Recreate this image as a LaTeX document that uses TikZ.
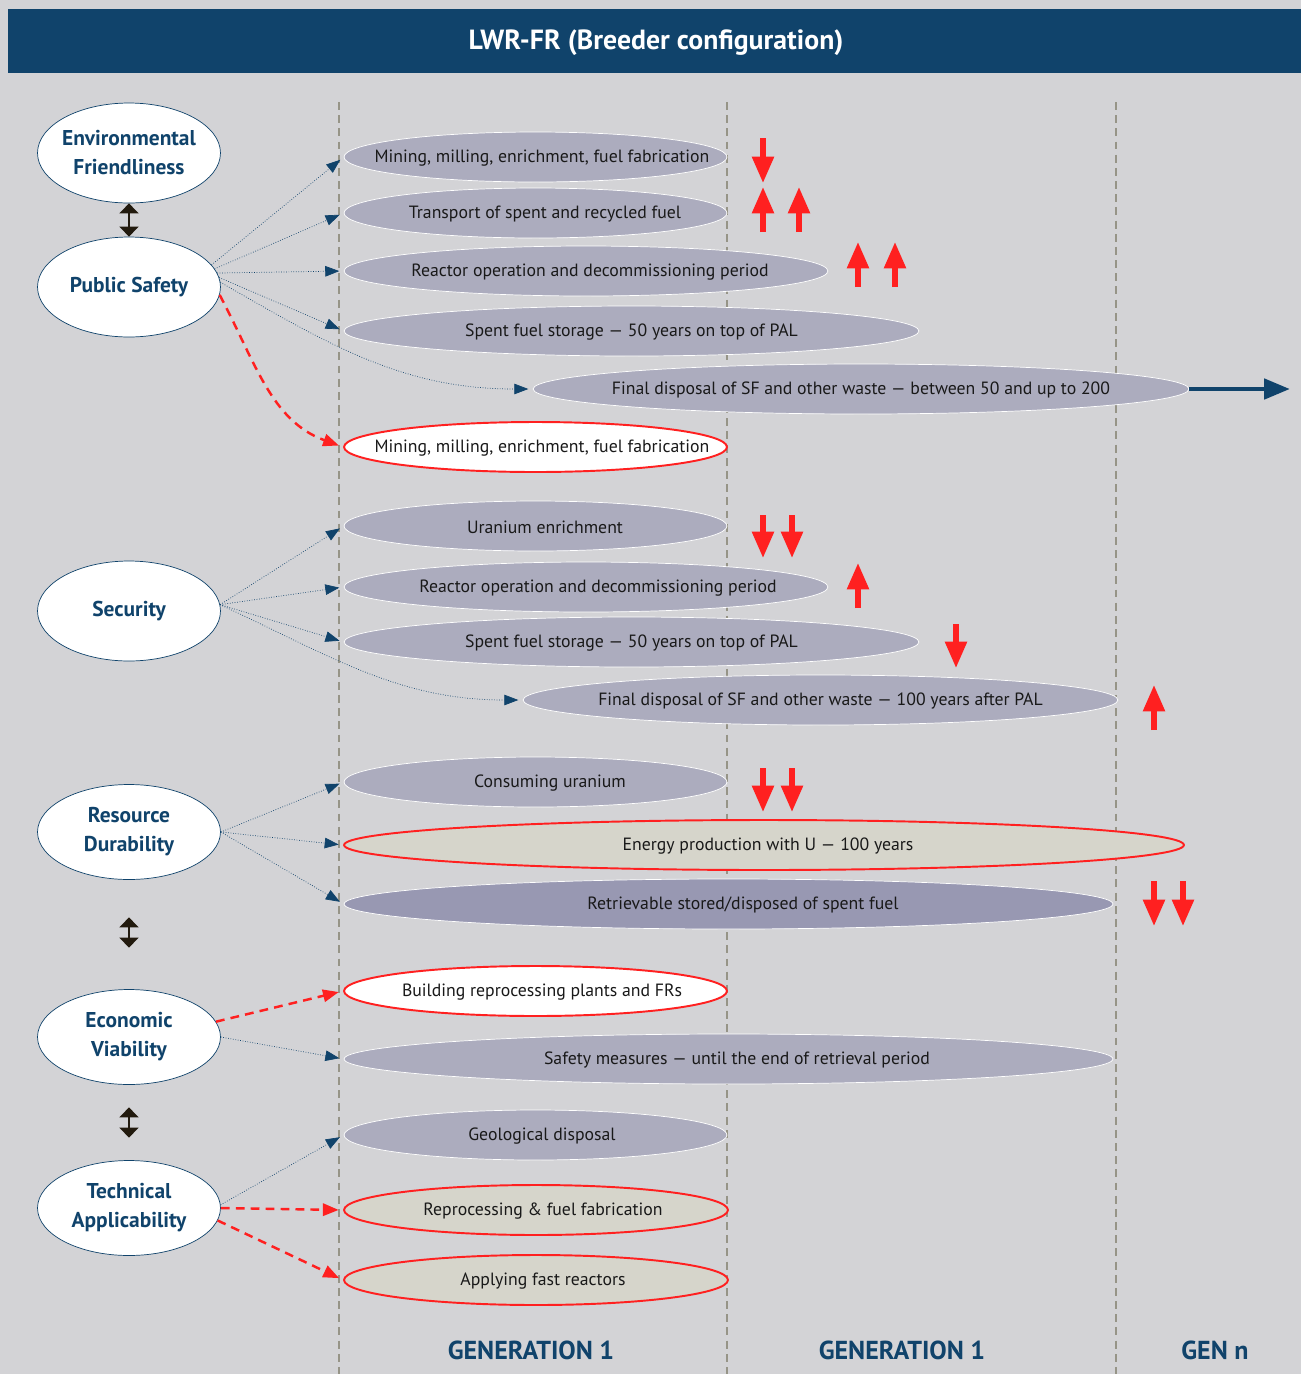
\documentclass[tikz,border=0pt]{standalone}
\usepackage{fontspec}
\setmainfont{PT Sans}
\usepackage{tikz}
\usetikzlibrary{shapes,arrows.meta,positioning,calc}
\usepackage{xcolor}
\definecolor{bgGrey}{RGB}{211,211,214}
\definecolor{navy}{RGB}{16,67,107}
\definecolor{stageGrey}{RGB}{172,172,190}
\definecolor{stageDark}{RGB}{152,152,178}
\definecolor{sand}{RGB}{214,213,203}
\definecolor{alarm}{RGB}{255,32,32}
\definecolor{ruleGrey}{RGB}{150,148,135}
\definecolor{inkBrown}{RGB}{34,26,14}

\begin{document}
\begin{tikzpicture}[
    x=0.02cm, y=-0.02cm,
    goal/.style={ellipse, draw=navy, thin, fill=white, minimum width=3.66cm, minimum height=2cm, inner ysep=0pt, inner xsep=-3pt, align=center, text=navy, font=\fontsize{12.2}{16.5}\selectfont\bfseries},
    stage/.style={ellipse, draw=white, fill=stageGrey, minimum height=1cm, inner sep=0pt},
    stage red/.style={ellipse, draw=alarm, line width=1.1pt, fill=white, minimum height=1cm, inner sep=0pt},
    stage text/.style={inner sep=0pt, yshift=-0.8pt, text=black!90, font=\fontsize{10.1}{12}\selectfont},
    link/.style={navy, densely dotted, thin, shorten >=2.5pt, -{Triangle[length=8pt,width=6pt]}},
    link red/.style={alarm, dash pattern=on 5pt off 3.5pt, line width=1.4pt, shorten >=2.5pt, -{Triangle[length=9pt,width=7pt]}},
    fat/.style={alarm, line width=3pt, -{Triangle[length=15pt,width=12pt]}},
    swap/.style={inkBrown, line width=0.8pt, {Triangle[length=5.7pt,width=10.8pt]}-{Triangle[length=5.7pt,width=10.8pt]}},
    gen/.style={text=navy, font=\fontsize{14.8}{17}\selectfont\bfseries}
]
    % Background and title
    \useasboundingbox (0,0) rectangle (1301,1374);
    \fill[bgGrey] (0,0) rectangle (1301,1374);
    \fill[navy] (8,9) rectangle (1301,73);
    \node[text=white, font=\fontsize{15.8}{18}\selectfont\bfseries] (title) at (656,43) {LWR-FR (Breeder configuration)};

    % Generation borders
    \foreach \x in {339,727,1116}
        \draw[ruleGrey, line width=1.1pt, dash pattern=on 4.5pt off 3pt] (\x,102) -- (\x,1374);
    \node[gen] (g1) at (531,1350) {GENERATION 1};
    \node[gen] (g2) at (902,1350) {GENERATION 1};
    \node[gen] (g3) at (1215,1350) {GEN n};

    % Criteria
    \node[goal] (env) at (129,153) {Environmental\\Friendliness};
    \node[goal] (ps) at (129,287) {Public Safety};
    \node[goal] (sec) at (129,611) {Security};
    \node[goal, minimum height=1.9cm] (res) at (129,832) {Resource\\Durability};
    \node[goal, minimum height=1.9cm] (eco) at (129,1037) {Economic\\Viability};
    \node[goal, minimum height=1.9cm] (tec) at (129,1208) {Technical\\Applicability};

    % Public safety stages
    \node[stage, minimum width=7.66cm] (mine1) at (535.5,157) {};
    \node[stage text] (mine1t) at (542,157) {Mining, milling, enrichment, fuel fabrication};
    \node[stage, minimum width=7.66cm] (trans) at (535.5,213) {};
    \node[stage text] (transt) at (545,213) {Transport of spent and recycled fuel};
    \node[stage, minimum width=9.68cm] (react1) at (586,271) {};
    \node[stage text] (react1t) at (590,271) {Reactor operation and decommissioning period};
    \node[stage, minimum width=11.5cm] (store1) at (631.5,331) {};
    \node[stage text] (store1t) at (store1) {Spent fuel storage --- 50 years on top of PAL};
    \node[stage, minimum width=13.12cm] (final1) at (861,389) {};
    \node[stage text] (final1t) at (final1) {Final disposal of SF and other waste --- between 50 and up to 200};
    \node[stage red, minimum width=7.66cm] (mine2) at (535.5,447) {};
    \node[stage text] (mine2t) at (542,447) {Mining, milling, enrichment, fuel fabrication};

    % Security stages
    \node[stage, minimum width=7.66cm] (enrich) at (535.5,526) {};
    \node[stage text] (enricht) at (545,526) {Uranium enrichment};
    \node[stage, minimum width=9.68cm] (react2) at (586,587) {};
    \node[stage text] (react2t) at (598,587) {Reactor operation and decommissioning period};
    \node[stage, minimum width=11.5cm] (store2) at (631.5,642) {};
    \node[stage text] (store2t) at (store2) {Spent fuel storage --- 50 years on top of PAL};
    \node[stage, minimum width=11.9cm] (final2) at (820.5,700) {};
    \node[stage text] (final2t) at (final2) {Final disposal of SF and other waste --- 100 years after PAL};

    % Resource durability stages
    \node[stage, minimum width=7.66cm] (consume) at (535.5,782) {};
    \node[stage text] (consumet) at (550,782) {Consuming uranium};
    \node[stage red, fill=sand, minimum width=16.8cm] (energy) at (764,845) {};
    \node[stage text] (energyt) at (768,845) {Energy production with U --- 100 years};
    \node[stage, fill=stageDark, minimum width=15.38cm] (retrieve) at (728.5,904) {};
    \node[stage text] (retrievet) at (743,904) {Retrievable stored/disposed of spent fuel};

    % Economic viability stages
    \node[stage red, minimum width=7.66cm] (build) at (535.5,991) {};
    \node[stage text] (buildt) at (542,991) {Building reprocessing plants and FRs};
    \node[stage, minimum width=15.38cm] (safety) at (728.5,1059) {};
    \node[stage text] (safetyt) at (737,1059) {Safety measures --- until the end of retrieval period};

    % Technical applicability stages
    \node[stage, minimum width=7.66cm] (geo) at (535.5,1135) {};
    \node[stage text] (geot) at (542,1135) {Geological disposal};
    \node[stage red, fill=sand, minimum width=7.68cm] (reproc) at (536,1210) {};
    \node[stage text] (reproct) at (543,1210) {Reprocessing \& fuel fabrication};
    \node[stage red, fill=sand, minimum width=7.68cm] (fastr) at (536,1280) {};
    \node[stage text] (fastrt) at (543,1280) {Applying fast reactors};

    % Links between criteria
    \draw[swap] (env) -- (ps);
    \draw[swap, shorten <=0.75cm, shorten >=0.83cm] (res) -- (eco);
    \draw[swap, shorten <=0.45cm, shorten >=0.45cm] (eco) -- (tec);

    % Links to stages
    \draw[link] (ps.15) -- (mine1.west);
    \draw[link] (ps.12) -- (trans.west);
    \draw[link] (ps.9) -- (react1.west);
    \draw[link] (ps.6) -- (store1.west);
    \draw[link] (ps.3) to[out=-30, in=180] (final1.west);
    \draw[link red] (ps.-5) to[out=-62, in=160] (mine2.west);

    \draw[link] (sec.4) -- (enrich.west);
    \draw[link] (sec.4) -- (react2.west);
    \draw[link] (sec.4) -- (store2.west);
    \draw[link] (sec.4) to[out=-25, in=180] (final2.west);

    \draw[link] (res.east) -- (consume.west);
    \draw[link] (res.east) -- (energy.west);
    \draw[link] (res.east) -- (retrieve.west);

    \draw[link red] (eco.10) -- (build.west);
    \draw[link] (eco.east) -- (safety.west);

    \draw[link] (tec.2) -- (geo.west);
    \draw[link red] (tec.0) -- (reproc.west);
    \draw[link red] (tec.-8) -- (fastr.west);

    % Time beyond
    \coordinate (beyond) at (1290,389);
    \draw[navy, line width=2.8pt, -{Triangle[length=14.7pt,width=11.3pt]}] (final1.east) -- (beyond);

    % Trend arrows
    \foreach \x/\ya/\yb in {763/138/183, 763/232/187, 799/232/187, 858/287/242, 895/287/242,
                            763/515/558, 792/515/558, 858/608/563, 956/624/668, 1154/730/685,
                            763/768/812, 792/768/812, 1154/881/926, 1183/881/926}
        \draw[fat] (\x,\ya) -- (\x,\yb);
\end{tikzpicture}
\end{document}
